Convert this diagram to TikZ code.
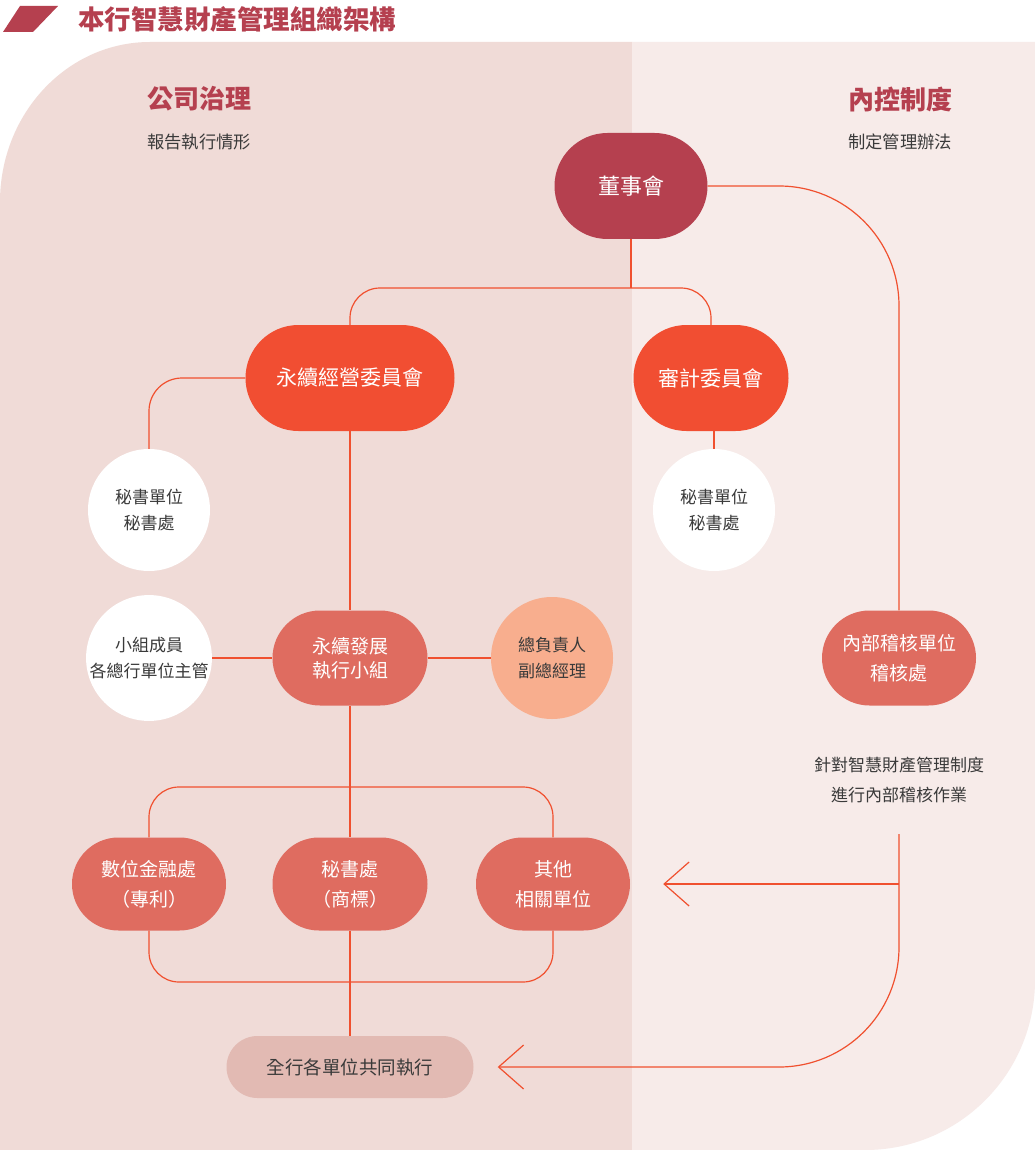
\documentclass[tikz,border=0pt]{standalone}
\usepackage{fontspec}
\setmainfont{Noto Sans CJK TC}
\usetikzlibrary{shapes.misc,arrows.meta}
\definecolor{bgL}{HTML}{F0DBD7}
\definecolor{bgR}{HTML}{F7EBE9}
\definecolor{redC}{HTML}{B5404F}
\definecolor{orC}{HTML}{F14E32}
\definecolor{midC}{HTML}{DF6C60}
\definecolor{peachC}{HTML}{F8AE8E}
\definecolor{paleC}{HTML}{E2BAB3}
\definecolor{txtC}{HTML}{3A3A3A}
\definecolor{lineC}{HTML}{F0502F}
\begin{document}
\begin{tikzpicture}[x=1pt,y=-1pt,
  conn/.style={draw=lineC, line width=1.2pt},
  pill/.style={rounded rectangle, inner sep=0pt, align=center, text=white},
  circ/.style={circle, fill=white, minimum size=122pt, inner sep=0pt, align=center, text=txtC, font=\fontsize{17}{26}\selectfont},
  arr/.style={-{Straight Barb[length=25pt,width=44pt]}},
  head/.style={anchor=west, text=redC, font=\fontsize{26}{30}\selectfont\bfseries, inner sep=0pt},
  sub/.style={anchor=west, text=txtC, font=\fontsize{17.3}{20}\selectfont, inner sep=0pt}
]
\useasboundingbox (0,0) rectangle (1035,1150);
\fill[white] (0,0) rectangle (1035,1150);
% backgrounds
\fill[bgL] (0,1150) -- (0,202) arc[start angle=180,end angle=270,x radius=150,y radius=160] -- (632,42) -- (632,1150) -- cycle;
\fill[bgR] (632,42) -- (1035,42) -- (1035,980) arc[start angle=0,end angle=90,radius=170] -- (632,1150) -- cycle;
% title
\fill[redC] (20,6) -- (58,6) -- (33,32) -- (3,32) -- cycle;
\node[anchor=west, text=redC, inner sep=0pt, font=\fontsize{26.5}{30}\selectfont\bfseries] (title) at (78,19) {本行智慧財產管理組織架構};
\node[head] (h1) at (147,99) {公司治理};
\node[sub] (s1) at (147,142) {報告執行情形};
\node[head] (h2) at (848,99) {內控制度};
\node[sub] (s2) at (848,142) {制定管理辦法};
% nodes
\node[pill, fill=redC, minimum width=153pt, minimum height=106pt, font=\fontsize{22}{26}\selectfont] (board) at (631,186) {董事會};
\node[pill, fill=orC, minimum width=209pt, minimum height=106pt, font=\fontsize{21}{26}\selectfont] (sc) at (350,378) {永續經營委員會};
\node[pill, fill=orC, minimum width=155pt, minimum height=106pt, font=\fontsize{21}{26}\selectfont] (ac) at (711,378) {審計委員會};
\node[circ] (sec1) at (149,510) {秘書單位\\秘書處};
\node[circ] (sec2) at (714,510) {秘書單位\\秘書處};
\node[pill, fill=midC, minimum width=155pt, minimum height=95pt, font=\fontsize{19}{24}\selectfont] (team) at (350,658) {永續發展\\執行小組};
\node[circ] (mem) at (149,658) {小組成員\\各總行單位主管};
\node[circ, fill=peachC] (chief) at (552,658) {總負責人\\副總經理};
\node[pill, fill=midC, minimum width=154pt, minimum height=95pt, font=\fontsize{19}{30}\selectfont] (audit) at (899,658) {內部稽核單位\\稽核處};
\node[pill, fill=midC, minimum width=154pt, minimum height=93pt, font=\fontsize{19}{30}\selectfont] (d1) at (149,884) {數位金融處\\（專利）};
\node[pill, fill=midC, minimum width=155pt, minimum height=93pt, font=\fontsize{19}{30}\selectfont] (d2) at (350,884) {秘書處\\（商標）};
\node[pill, fill=midC, minimum width=154pt, minimum height=93pt, font=\fontsize{19}{30}\selectfont] (d3) at (553,884) {其他\\相關單位};
\node[pill, fill=paleC, text=txtC, minimum width=247pt, minimum height=62pt, font=\fontsize{18.5}{22}\selectfont] (all) at (350,1067) {全行各單位共同執行};
\node[align=center, text=txtC, inner sep=0pt, font=\fontsize{17}{30}\selectfont] (atext) at (899,780) {針對智慧財產管理制度\\進行內部稽核作業};
% connectors
\coordinate (j1) at (631,288);
\draw[conn] (board.south) -- (j1);
\draw[conn, rounded corners=30pt] (sc.north) |- (j1) -| (ac.north);
\draw[conn, rounded corners=120pt] (board.east) -| (audit.north);
\draw[conn, rounded corners=33pt] (sc.west) -| (sec1.north);
\draw[conn] (ac.south -| sec2.north) -- (sec2.north);
\draw[conn] (sc.south) -- (team.north);
\draw[conn] (mem.east) -- (team.west);
\draw[conn] (team.east) -- (chief.west);
\draw[conn] (team.south) -- (d2.north);
\coordinate (lt) at (350,787);
\coordinate (lb) at (350,982);
\draw[conn, rounded corners=30pt] (d1.north) |- (lt) -| (d3.north);
\draw[conn, rounded corners=30pt] (d1.south) |- (lb) -| (d3.south);
\draw[conn] (d2.south) -- (all.north);
\coordinate (a1) at (899,834);
\draw[conn, arr, shorten >=33pt] (a1 |- d3.east) -- (d3.east);
\draw[conn, arr, rounded corners=120pt, shorten >=24pt] (a1) |- (all.east);
\end{tikzpicture}
\end{document}
